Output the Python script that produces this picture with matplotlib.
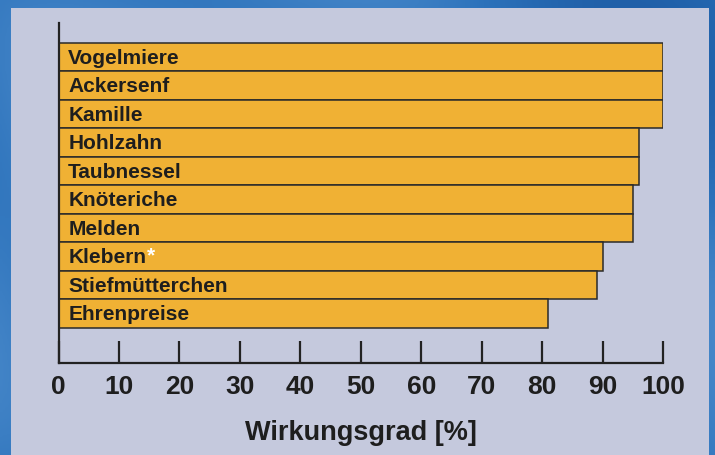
import matplotlib
matplotlib.use("Agg")
import matplotlib.pyplot as plt
import numpy as np
from matplotlib.patches import Rectangle
from matplotlib.colors import LinearSegmentedColormap

categories = ["Vogelmiere", "Ackersenf", "Kamille", "Hohlzahn", "Taubnessel",
              "Knöteriche", "Melden", "Klebern", "Stiefmütterchen", "Ehrenpreise"]
values = [100, 100, 100, 96, 96, 95, 95, 90, 89, 81]
marked = ["Klebern"]
xticks = [0, 10, 20, 30, 40, 50, 60, 70, 80, 90, 100]
xlabel = "Wirkungsgrad [%]"

plt.rcParams['font.family'] = ['Liberation Sans', 'DejaVu Sans']

W, H = 715, 455
fig = plt.figure(figsize=(W / 100, H / 100), dpi=100)

# blue gradient background
bg = fig.add_axes([0, 0, 1, 1], zorder=-10)
gy, gx = np.mgrid[0:1:200j, 0:1:300j]
grad = 0.5 + 0.25 * np.sin(gx * 5 + gy * 3) + 0.15 * np.cos(gx * 11 - gy * 7)
cmap = LinearSegmentedColormap.from_list("b", ["#1f5fa8", "#2c72bb", "#4a8acb"])
bg.imshow(grad, cmap=cmap, aspect="auto", extent=[0, 1, 0, 1])
bg.set_xlim(0, 1)
bg.set_ylim(0, 1)
bg.axis("off")
# light panel
bg.add_patch(Rectangle((11 / W, 0), (709 - 11) / W, 1 - 8 / H,
                       facecolor="#c5c9dd", edgecolor="none"))

ax = fig.add_axes([58.5 / W, 1 - 363 / H, (663 - 58.5) / W, (363 - 23) / H])
ax.set_facecolor("none")

ypos = np.arange(len(categories))
ax.barh(ypos, values, height=1.0, color="#f0b134", edgecolor="#2a2a2a",
        linewidth=1.1, zorder=2)

for y, name in zip(ypos, categories):
    t = ax.text(1.6, y + 0.03, name, va="center", ha="left", fontsize=15,
                fontweight="bold", color="#1e1e1e", zorder=3)
    if name in marked:
        ax.annotate("*", xy=(1.0, 1.0), xycoords=t, xytext=(0.5, 1),
                    textcoords="offset points", ha="left", va="top",
                    fontsize=15, fontweight="bold", color="white", zorder=4)

ax.set_xlim(0, 100)
ax.set_ylim(10.73, -1.2)
ax.set_yticks([])
ax.set_xticks(xticks)
ax.set_xticklabels([str(v) for v in xticks], fontsize=19, fontweight="bold",
                   color="#1e1e1e")
ax.tick_params(axis="x", direction="in", length=16, width=1.6, color="#222222",
               pad=9)
ax.set_xlabel(xlabel, fontsize=19.5, fontweight="bold", color="#1e1e1e",
              labelpad=15)
for s in ["top", "right"]:
    ax.spines[s].set_visible(False)
for s in ["left", "bottom"]:
    ax.spines[s].set_linewidth(1.6)
    ax.spines[s].set_color("#222222")

fig.savefig("out.png", dpi=100)
